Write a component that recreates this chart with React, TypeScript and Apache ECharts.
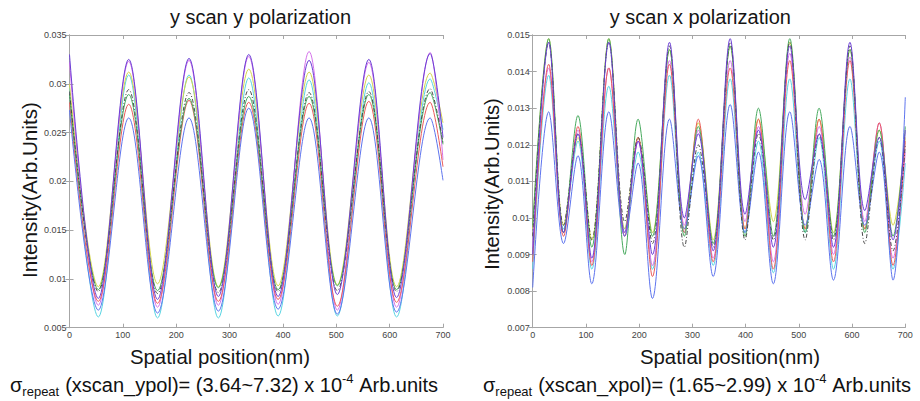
import React, { useEffect, useRef } from "react";
import * as echarts from "echarts";

// ---------- Data ----------
const X_TICK_INTERVAL = 100;

// Left panel: y scan, y polarization (extrema positions, nm)
const LEFT_X = [0, 54, 111, 165, 224, 279, 336, 391, 449, 502, 561, 613, 676, 700];
const LEFT_PURPLE = [0.033, 0.008, 0.0325, 0.0079, 0.0326, 0.0082, 0.033, 0.0082, 0.0324, 0.0084, 0.0325, 0.0081, 0.0331, 0.0245];
const LEFT_MAGENTA = [0.0322, 0.0073, 0.0323, 0.0071, 0.0324, 0.0073, 0.0328, 0.0074, 0.0333, 0.0068, 0.0322, 0.0071, 0.0332, 0.0222];
const LEFT_YELLOW = [0.03, 0.0092, 0.0312, 0.0095, 0.0307, 0.0092, 0.0315, 0.0093, 0.0312, 0.0094, 0.0309, 0.0092, 0.0311, 0.026];
const LEFT_CYAN = [0.0296, 0.0061, 0.0309, 0.006, 0.0309, 0.006, 0.0306, 0.0062, 0.0304, 0.0062, 0.0301, 0.0061, 0.0305, 0.0253];
const LEFT_GRAY = [0.0292, 0.0087, 0.0294, 0.0085, 0.0291, 0.0086, 0.0294, 0.0087, 0.0291, 0.0088, 0.0292, 0.0087, 0.0295, 0.024];
const LEFT_GREEN = [0.0289, 0.0089, 0.0289, 0.0088, 0.0285, 0.0091, 0.0287, 0.0089, 0.0287, 0.0093, 0.0289, 0.0089, 0.0291, 0.0238];
const LEFT_RED = [0.0281, 0.0077, 0.0279, 0.0075, 0.0283, 0.0077, 0.0281, 0.0079, 0.028, 0.0072, 0.0282, 0.0076, 0.0281, 0.0215];
const LEFT_BLUE = [0.0273, 0.0068, 0.0265, 0.0065, 0.0265, 0.0067, 0.0275, 0.0069, 0.0265, 0.0064, 0.0265, 0.0066, 0.0265, 0.0201];
const LEFT_Y_MIN = 0.005;
const LEFT_Y_MAX = 0.035;
const LEFT_Y_INTERVAL = 0.005;

// Right panel: y scan, x polarization (extrema positions, nm)
const RIGHT_X = [0, 30, 58, 85, 111, 143, 173, 198, 225, 257, 285, 311, 339, 371, 399, 424, 452, 483, 512, 538, 565, 596, 624, 651, 677, 700];
const RIGHT_PURPLE = [0.009, 0.0148, 0.0096, 0.0123, 0.0089, 0.0148, 0.0096, 0.0121, 0.009, 0.0148, 0.01, 0.0123, 0.0091, 0.0149, 0.0101, 0.0124, 0.0092, 0.0147, 0.0105, 0.0123, 0.0092, 0.0148, 0.0102, 0.0122, 0.0094, 0.0124];
const RIGHT_MAGENTA = [0.0092, 0.0141, 0.0096, 0.0124, 0.0088, 0.0141, 0.0095, 0.0121, 0.0087, 0.0143, 0.0098, 0.0124, 0.0089, 0.0143, 0.0099, 0.0125, 0.0088, 0.0145, 0.0101, 0.0125, 0.009, 0.0144, 0.0099, 0.0126, 0.0089, 0.0118];
const RIGHT_YELLOW = [0.0097, 0.0149, 0.0098, 0.0122, 0.0094, 0.0149, 0.0097, 0.0122, 0.0096, 0.0146, 0.0097, 0.0126, 0.0094, 0.0147, 0.0097, 0.0127, 0.0099, 0.0148, 0.0097, 0.0127, 0.0096, 0.0146, 0.0097, 0.0124, 0.0098, 0.0122];
const RIGHT_CYAN = [0.0086, 0.0139, 0.0097, 0.0121, 0.0086, 0.0136, 0.0097, 0.0118, 0.0086, 0.0139, 0.0096, 0.0118, 0.0087, 0.0138, 0.0096, 0.0121, 0.0085, 0.0138, 0.0096, 0.0122, 0.0086, 0.0138, 0.0097, 0.0121, 0.0086, 0.0115];
const RIGHT_GRAY = [0.0095, 0.0148, 0.0098, 0.0123, 0.0094, 0.0148, 0.0099, 0.0122, 0.0093, 0.0147, 0.0092, 0.012, 0.0092, 0.0148, 0.0094, 0.0123, 0.0094, 0.0148, 0.0094, 0.0123, 0.0094, 0.0147, 0.0093, 0.0122, 0.0091, 0.012];
const RIGHT_GREEN = [0.0098, 0.0149, 0.0096, 0.0128, 0.0092, 0.0149, 0.009, 0.0127, 0.0095, 0.0146, 0.0095, 0.0125, 0.0093, 0.0147, 0.0095, 0.013, 0.0095, 0.0149, 0.0096, 0.013, 0.0095, 0.0146, 0.0096, 0.0124, 0.0095, 0.0125];
const RIGHT_RED = [0.0088, 0.0142, 0.0095, 0.0125, 0.0087, 0.0141, 0.0095, 0.0122, 0.0084, 0.0142, 0.0096, 0.0127, 0.0088, 0.0141, 0.0097, 0.0127, 0.0086, 0.0143, 0.0097, 0.0127, 0.0088, 0.0143, 0.0097, 0.0126, 0.0087, 0.0121];
const RIGHT_BLUE = [0.0081, 0.0129, 0.0093, 0.0117, 0.0082, 0.0129, 0.0095, 0.0115, 0.0078, 0.0127, 0.0097, 0.0117, 0.0084, 0.0131, 0.0096, 0.0118, 0.0082, 0.0129, 0.0098, 0.0116, 0.0083, 0.0125, 0.0098, 0.0118, 0.0083, 0.0133];
const RIGHT_Y_MIN = 0.007;
const RIGHT_Y_MAX = 0.015;
const RIGHT_Y_INTERVAL = 0.001;

const X_MIN = 0;
const X_MAX = 700;

const TITLES = ["y scan y polarization", "y scan x polarization"];
const X_LABEL = "Spatial position(nm)";
const Y_LABEL = "Intensity(Arb.Units)";
const SIGMA_TEXTS = [
  { label: "(xscan_ypol)", range: "(3.64~7.32)" },
  { label: "(xscan_xpol)", range: "(1.65~2.99)" },
];

// ---------- Styling ----------
const FONT = "'Liberation Sans', Arial, Helvetica, sans-serif";
const BOX = "#a6a6a6";
const TICK_TEXT = "#444";
const NBSP = "\u00a0";

const SERIES_STYLES = [
  { name: "cyan", color: "#58d4e2", left: LEFT_CYAN, right: RIGHT_CYAN },
  { name: "yellow", color: "#d4d44c", left: LEFT_YELLOW, right: RIGHT_YELLOW },
  { name: "magenta", color: "#d472ea", left: LEFT_MAGENTA, right: RIGHT_MAGENTA },
  { name: "red", color: "#ea5c5c", left: LEFT_RED, right: RIGHT_RED },
  { name: "green", color: "#48aa5e", left: LEFT_GREEN, right: RIGHT_GREEN },
  { name: "blue", color: "#5e74ee", left: LEFT_BLUE, right: RIGHT_BLUE },
  { name: "gray", color: "#4a4a4a", left: LEFT_GRAY, right: RIGHT_GRAY, dash: [4, 2, 1, 2] },
  { name: "purple", color: "#6b3fd4", left: LEFT_PURPLE, right: RIGHT_PURPLE },
];

const GRIDS = [
  { left: 69.5, top: 35, width: 373.5, height: 292.7 },
  { left: 532.7, top: 35, width: 372.6, height: 292.7 },
];

const fmtY = (v: number) => String(+v.toFixed(3));

function axisPair(gridIndex: number, yMin: number, yMax: number, yInt: number) {
  const line = { show: true, lineStyle: { color: BOX, width: 1 } };
  const tick = { show: true, inside: true, length: 4, lineStyle: { color: BOX, width: 1 } };
  const xAxes = [
    {
      type: "value", gridIndex, position: "bottom", min: X_MIN, max: X_MAX, interval: X_TICK_INTERVAL,
      axisLine: line, axisTick: tick, splitLine: { show: false },
      axisLabel: { fontSize: 9, color: TICK_TEXT, margin: 3, fontFamily: FONT },
    },
    {
      type: "value", gridIndex, position: "top", min: X_MIN, max: X_MAX, interval: X_TICK_INTERVAL,
      axisLine: line, axisTick: tick, splitLine: { show: false }, axisLabel: { show: false },
    },
  ];
  const yAxes = [
    {
      type: "value", gridIndex, position: "left", min: yMin, max: yMax, interval: yInt,
      axisLine: line, axisTick: tick, splitLine: { show: false },
      axisLabel: { fontSize: 9, color: TICK_TEXT, margin: 3, fontFamily: FONT, formatter: fmtY },
    },
    {
      type: "value", gridIndex, position: "right", min: yMin, max: yMax, interval: yInt,
      axisLine: line, axisTick: tick, splitLine: { show: false }, axisLabel: { show: false },
    },
  ];
  return { xAxes, yAxes };
}

function sigmaText(x: number, label: string, range: string) {
  return {
    type: "text",
    x,
    y: 385,
    style: {
      text: `{m|σ}{s|repeat}{m|${label}= ${range} x 10}{p|-4}{m|${NBSP}Arb.units}`,
      align: "left",
      verticalAlign: "middle",
      textAlign: "left",
      textVerticalAlign: "middle",
      fill: "#111",
      rich: {
        m: { fontSize: 20, fontFamily: FONT, fill: "#111", lineHeight: 26 },
        s: { fontSize: 13, fontFamily: FONT, fill: "#111", verticalAlign: "bottom", padding: [0, 6, 0, 0] },
        p: { fontSize: 13, fontFamily: FONT, fill: "#111", verticalAlign: "top" },
      },
    },
  };
}

function plainText(x: number, y: number, text: string, size: number, rotation = 0) {
  return {
    type: "text",
    x,
    y,
    rotation,
    style: {
      text,
      fontSize: size,
      fontFamily: FONT,
      fill: "#151515",
      align: "center",
      verticalAlign: "middle",
      textAlign: "center",
      textVerticalAlign: "middle",
    },
  };
}

export default function App() {
  const ref = useRef<HTMLDivElement>(null);

  useEffect(() => {
    if (!ref.current) return;
    const chart = echarts.init(ref.current, undefined, { renderer: "svg" });

    const a = axisPair(0, LEFT_Y_MIN, LEFT_Y_MAX, LEFT_Y_INTERVAL);
    const b = axisPair(1, RIGHT_Y_MIN, RIGHT_Y_MAX, RIGHT_Y_INTERVAL);

    const series: any[] = [];
    SERIES_STYLES.forEach((s) => {
      series.push({
        type: "line",
        name: "L-" + s.name,
        xAxisIndex: 0,
        yAxisIndex: 0,
        data: LEFT_X.map((x, i) => [x, s.left[i]]),
        showSymbol: false,
        smooth: 0.34,
        lineStyle: { color: s.color, width: 1, type: (s as any).dash || "solid" },
        z: 2,
      });
      series.push({
        type: "line",
        name: "R-" + s.name,
        xAxisIndex: 2,
        yAxisIndex: 2,
        data: RIGHT_X.map((x, i) => [x, s.right[i]]),
        showSymbol: false,
        smooth: 0.34,
        lineStyle: { color: s.color, width: 1, type: (s as any).dash || "solid" },
        z: 2,
      });
    });

    chart.setOption({
      animation: false,
      backgroundColor: "#ffffff",
      grid: GRIDS.map((g) => ({ ...g, containLabel: false })),
      xAxis: [...a.xAxes, ...b.xAxes],
      yAxis: [...a.yAxes, ...b.yAxes],
      series,
      graphic: [
        plainText(260.5, 17, TITLES[0], 20),
        plainText(700.3, 17, TITLES[1], 20),
        plainText(29.3, 190, Y_LABEL, 20.7, Math.PI / 2),
        plainText(491.7, 184, Y_LABEL, 20.2, Math.PI / 2),
        plainText(220, 357, X_LABEL, 20.4),
        plainText(730, 357, X_LABEL, 20.4),
        sigmaText(10, SIGMA_TEXTS[0].label, SIGMA_TEXTS[0].range),
        sigmaText(483, SIGMA_TEXTS[1].label, SIGMA_TEXTS[1].range),
      ],
    });

    return () => chart.dispose();
  }, []);

  return (
    <div
      ref={ref}
      style={{ position: "fixed", left: 0, top: 0, width: 920, height: 401, background: "#fff" }}
    />
  );
}
